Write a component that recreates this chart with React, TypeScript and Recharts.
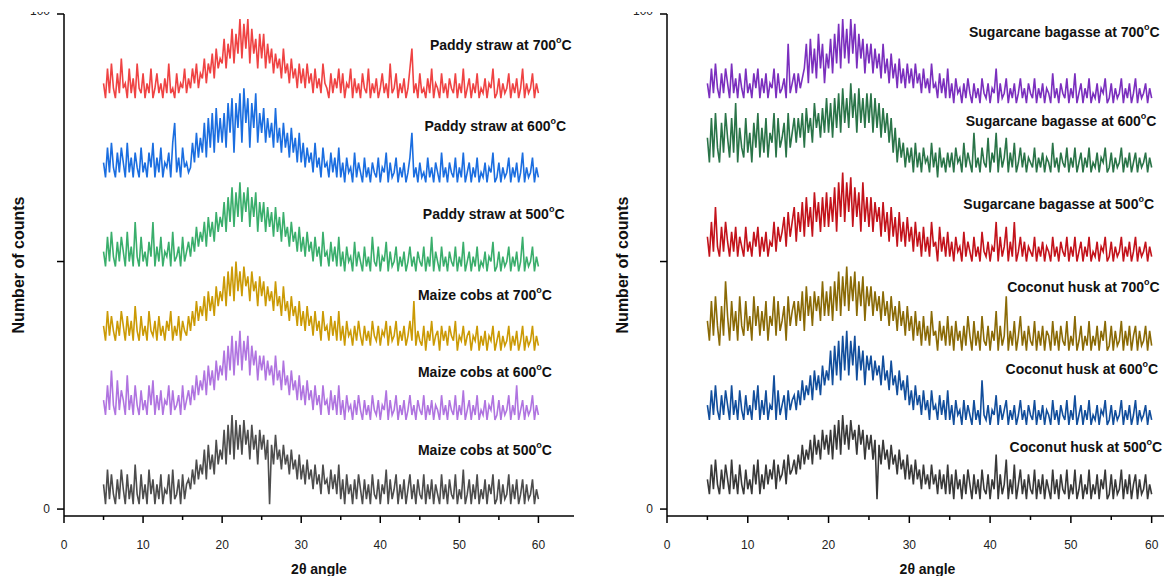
import { LineChart, Line, XAxis, YAxis, ReferenceDot } from "recharts";

const FONT = "'Liberation Sans', Arial, Helvetica, sans-serif";

// 2θ grid of the scans: 5° .. 60° every 0.25°
const X_START = 5;
const X_STEP = 0.25;
const N_POINTS = 221;
const twoTheta = Array.from({ length: N_POINTS }, (_, i) => X_START + i * X_STEP);

const X_TICKS = [0, 5, 10, 15, 20, 25, 30, 35, 40, 45, 50, 55, 60];
const Y_TICKS = [0, 50, 100];

// ---- left panel: paddy straw / maize cobs (offset intensities)
const paddy700 = [
  86,83,89,84,90,85,83,88,84,91,85,86,83,89,84,87,83,90,85,84,88,83,86,84,89,83,85,88,84,86,83,87,84,90,84,85,83,88,84,86,85,89,84,87,
  85,89,86,90,85,88,87,91,86,90,88,92,87,93,89,91,
  90,95,89,94,91,97,90,96,92,99,91,98,93,99,90,97,92,95,89,96,
  91,96,89,94,90,93,88,92,89,91,87,93,88,90,86,91,87,89,85,90,
  86,89,85,90,86,88,84,89,85,87,84,90,86,85,83,88,84,87,85,89,
  84,88,83,86,85,89,83,87,84,86,83,88,85,84,89,83,86,84,87,83,
  85,88,84,86,83,90,84,85,88,83,86,84,87,83,85,89,93,84,86,83,
  88,84,85,83,87,84,89,83,86,85,83,88,84,86,83,87,85,84,88,83,
  86,84,89,83,85,87,83,86,84,88,83,85,84,87,83,86,85,89,83,84,
  87,83,86,84,85,88,83,86,84,87,83,85,89,83,86,84,85,88,83,86,84,
];
const paddy600 = [
  70,67,73,68,74,69,67,72,68,73,70,67,74,68,71,67,72,69,67,73,68,70,67,72,69,74,67,71,68,73,67,70,69,72,67,74,78,68,71,67,73,69,70,68,
  69,74,70,76,71,75,72,78,71,79,73,80,72,81,74,79,
  74,80,73,82,76,83,72,82,77,84,74,85,78,83,73,82,77,84,74,80,
  76,81,74,79,75,78,73,81,74,77,72,78,73,76,71,77,72,75,70,76,
  70,74,69,73,70,72,68,74,69,71,67,73,69,70,67,72,68,71,67,73,
  67,70,66,71,68,69,66,72,67,70,68,66,71,67,69,66,70,68,67,71,
  66,69,68,72,66,70,67,68,71,66,69,67,70,66,68,71,76,67,69,66,
  70,67,68,66,71,67,69,66,70,68,66,72,67,69,66,70,68,67,71,66,
  69,67,72,66,68,70,66,69,67,71,66,68,67,70,66,69,68,72,66,67,
  70,66,69,67,68,71,66,69,67,70,66,68,72,66,69,67,68,71,66,69,67,
];
const paddy500 = [
  52,49,55,50,56,51,49,54,50,55,52,49,56,50,53,49,58,51,49,55,50,52,49,54,51,58,49,53,50,55,49,52,51,54,49,56,50,51,53,49,55,50,52,54,
  51,55,52,57,53,56,54,58,53,59,55,58,54,60,56,59,
  57,62,56,63,58,65,57,64,59,66,58,64,60,65,57,63,59,64,56,62,
  58,62,56,61,57,60,55,61,56,59,54,60,55,57,53,58,54,56,52,57,
  52,55,51,56,52,54,50,55,51,53,49,56,51,52,49,54,50,53,49,55,
  49,52,48,53,50,51,48,54,49,52,50,48,53,49,51,48,55,50,49,53,
  48,51,50,54,48,52,49,50,53,48,51,49,52,48,50,53,49,51,48,52,
  50,49,53,48,51,49,55,48,52,50,48,53,49,51,48,52,50,49,53,48,
  51,49,54,48,50,52,48,51,49,53,48,50,49,52,48,51,50,54,48,49,
  52,48,51,49,50,53,48,51,49,52,48,50,55,48,51,49,50,53,48,51,49,
];
const maize700 = [
  37,34,40,35,39,36,34,38,35,40,37,34,39,35,38,34,41,36,34,39,35,37,34,40,36,35,38,34,39,35,37,34,38,36,40,34,37,35,39,34,38,36,35,39,
  36,40,37,42,38,41,39,43,38,44,40,43,39,45,41,44,
  42,47,41,48,43,49,42,50,44,48,43,49,45,47,42,48,44,46,41,47,
  43,46,41,45,42,44,40,46,41,43,39,45,40,42,38,43,39,41,37,42,
  37,40,36,41,37,39,35,40,36,38,34,40,36,37,34,39,35,38,34,40,
  34,37,33,38,35,36,33,37,34,38,35,33,37,34,36,33,38,35,34,37,
  33,36,35,38,33,37,34,35,38,33,36,34,37,33,35,38,34,42,33,36,
  34,33,37,32,36,34,38,33,35,36,32,37,34,36,33,37,35,34,38,32,
  35,34,37,33,35,36,32,35,34,37,32,35,33,36,32,35,34,37,32,34,
  36,32,35,33,34,37,32,35,33,36,32,34,37,32,35,33,34,37,32,35,33,
];
const maize600 = [
  22,19,25,20,28,21,19,26,20,24,22,19,27,20,23,19,25,21,19,24,20,22,19,25,21,26,19,23,20,24,19,22,21,25,19,24,20,21,23,19,25,20,22,24,
  21,25,22,27,23,26,24,28,23,29,25,28,24,30,26,29,
  27,32,26,33,28,35,27,34,29,36,28,34,30,35,27,33,29,32,26,31,
  28,31,26,30,27,29,25,31,26,28,24,30,25,27,23,28,24,26,22,27,
  22,25,21,26,22,24,20,25,21,23,19,25,21,22,19,24,20,23,19,25,
  19,22,18,23,20,21,18,22,19,23,20,18,22,19,21,18,23,20,19,22,
  18,21,20,24,18,22,19,20,23,18,21,19,22,18,20,23,19,21,18,22,
  20,19,23,18,21,19,22,18,21,20,18,23,19,21,18,22,20,19,23,18,
  21,19,24,18,20,22,18,21,19,23,18,20,19,22,18,21,20,23,18,19,
  22,18,21,19,20,23,18,21,19,25,18,20,22,18,21,19,20,23,18,21,19,
];
const maize500 = [
  5,1,8,2,7,3,1,6,2,8,4,1,7,2,5,1,9,3,1,7,2,5,1,8,3,6,1,5,2,7,1,4,3,7,1,8,2,3,6,1,7,2,5,6,
  4,8,5,10,6,9,7,12,6,13,8,11,7,14,9,12,
  10,16,9,17,11,19,10,18,12,17,11,18,13,16,10,17,12,15,9,16,
  12,15,10,14,1,13,9,15,10,12,8,13,9,11,7,12,8,10,6,11,
  6,9,5,10,6,8,4,9,5,7,3,9,5,6,3,8,4,7,3,9,
  2,6,1,7,3,5,1,6,2,7,4,1,6,2,5,1,7,3,2,6,
  1,5,3,8,1,6,2,4,7,1,5,2,6,1,4,7,2,5,1,6,
  3,2,7,1,5,2,6,1,5,3,1,7,2,5,1,6,3,2,7,1,
  4,2,8,1,3,6,1,5,2,7,1,4,2,6,1,5,3,7,1,2,
  6,1,5,2,3,7,1,5,2,6,1,3,6,1,5,2,3,6,1,4,2,
];

// ---- right panel: sugarcane bagasse / coconut husk
const sugar700 = [
  86,83,89,84,90,85,83,88,84,89,86,83,90,84,87,83,88,85,83,89,84,86,83,88,85,89,83,87,84,88,83,86,85,89,83,88,84,85,87,83,94,84,86,88,
  84,88,85,87,89,94,86,95,88,93,87,96,89,94,86,92,
  89,95,88,96,90,98,89,99,91,97,90,99,92,98,89,96,91,95,88,94,
  90,94,88,93,89,92,87,94,88,91,86,92,87,90,85,91,86,89,85,90,
  86,89,85,90,86,88,84,89,85,87,84,90,85,86,83,88,84,87,83,89,
  83,86,82,87,84,85,82,86,83,87,84,82,86,83,85,82,87,84,83,86,
  82,85,84,89,82,86,83,84,87,82,85,83,86,82,84,87,83,85,82,86,
  84,83,87,82,85,83,86,82,85,84,82,88,83,85,82,86,84,83,87,82,
  85,83,88,82,84,86,82,85,83,87,82,84,83,86,82,85,84,87,82,83,
  86,82,85,83,84,87,82,85,83,86,82,84,87,82,85,83,84,86,82,85,83,
];
const sugar600 = [
  75,70,79,71,80,73,70,78,72,80,75,71,79,72,82,70,77,73,71,79,72,76,70,78,73,80,71,77,72,79,71,76,74,80,71,79,73,75,78,71,80,73,76,79,
  74,79,75,80,73,81,76,79,74,82,77,80,75,81,76,83,
  76,82,75,83,77,84,76,85,78,83,77,86,79,84,76,85,78,83,77,84,
  78,84,76,83,77,82,75,81,76,80,74,79,72,77,70,75,71,74,69,73,
  70,73,68,74,69,72,68,73,70,71,68,74,69,72,67,73,69,71,68,72,
  69,72,68,73,70,71,68,74,69,72,70,68,76,69,71,68,73,70,69,75,
  68,72,70,76,68,73,69,71,75,68,72,69,74,68,70,73,69,72,68,71,
  70,69,73,68,71,69,72,68,71,70,68,74,69,71,68,72,70,69,73,68,
  71,69,73,68,70,72,68,71,69,73,68,70,69,72,68,71,70,73,68,69,
  72,68,71,69,70,73,68,71,69,72,68,70,72,68,71,69,70,72,68,71,69,
];
const sugar500 = [
  55,51,58,52,61,53,51,57,52,58,54,51,56,52,57,51,55,53,51,57,52,54,51,56,53,57,51,55,52,56,51,54,53,58,52,57,54,56,59,53,60,55,58,61,
  54,60,56,62,55,63,57,61,55,64,58,62,56,63,57,64,
  57,63,58,65,56,66,59,68,58,66,60,67,57,65,59,64,56,66,58,63,
  57,63,56,62,58,61,55,62,56,60,54,61,55,59,53,60,54,58,53,59,
  54,57,52,58,53,56,51,57,52,55,51,58,53,54,50,57,52,55,51,56,
  51,54,50,55,52,53,50,56,51,54,52,50,55,51,53,50,56,52,51,54,
  50,53,52,58,50,55,51,53,57,50,54,51,58,50,52,55,51,54,50,53,
  52,51,55,50,53,51,54,50,53,52,50,55,51,53,50,54,52,51,55,50,
  53,51,55,50,52,54,50,53,51,55,50,52,51,54,50,53,52,55,50,51,
  54,50,53,51,52,55,50,53,51,54,50,52,55,50,53,51,52,54,50,53,51,
];
const coconut700 = [
  38,34,42,35,43,37,33,41,35,46,39,34,42,36,40,34,43,37,35,42,36,39,34,43,37,41,35,40,36,42,34,39,37,43,35,42,36,38,41,34,43,37,40,42,
  37,42,38,44,36,45,39,43,37,44,40,43,38,46,39,44,
  39,45,38,46,40,48,39,47,41,49,40,47,42,48,39,46,41,47,38,45,
  41,45,39,44,40,43,38,44,39,42,37,43,38,41,36,42,37,40,35,41,
  36,39,34,40,35,38,33,39,34,37,33,40,35,36,32,38,34,37,33,39,
  33,37,32,38,34,36,32,37,33,39,35,32,38,33,36,32,39,34,33,37,
  32,36,34,40,32,37,33,35,43,32,36,33,38,32,35,39,33,36,32,37,
  34,33,38,32,36,33,37,32,36,35,32,38,33,36,32,37,34,33,38,32,
  35,33,39,32,34,37,32,35,33,38,32,35,33,37,32,36,34,38,32,33,
  37,32,36,33,34,38,32,36,33,37,32,35,37,32,36,33,34,37,32,36,33,
];
const coconut600 = [
  21,18,24,19,25,20,18,23,19,24,21,18,25,19,22,18,24,20,18,23,19,21,18,24,20,25,18,22,19,24,18,21,20,27,18,24,19,21,23,18,24,20,22,23,
  20,24,21,26,22,25,23,27,22,28,24,27,23,29,25,28,
  26,32,25,33,27,34,26,35,28,36,27,34,29,35,26,33,28,32,25,31,
  28,31,26,30,27,29,25,31,26,28,24,30,25,27,23,28,24,26,22,27,
  21,24,20,25,21,23,19,24,20,22,18,24,20,21,18,23,19,22,18,24,
  18,21,17,22,19,20,17,22,18,21,19,17,22,18,20,17,26,19,18,21,
  17,20,19,23,17,21,18,20,22,17,20,18,21,17,19,22,18,20,17,21,
  19,18,22,17,20,18,21,17,20,19,17,22,18,20,17,21,19,18,22,17,
  20,18,23,17,19,21,17,20,18,22,17,19,18,21,17,20,19,22,17,18,
  21,17,20,18,19,22,17,20,18,21,17,19,22,17,20,18,19,21,17,20,18,
];
const coconut500 = [
  6,3,9,4,10,5,3,8,4,9,6,3,10,4,7,3,9,5,3,8,4,6,3,9,5,10,3,7,4,9,5,8,6,10,4,9,6,7,10,5,11,7,8,10,
  7,11,8,13,9,12,10,14,9,15,11,14,10,16,12,15,
  11,16,10,17,12,18,11,19,13,17,12,18,14,16,11,17,13,16,10,15,
  12,15,10,14,2,13,9,14,10,12,8,13,9,11,7,12,8,10,6,11,
  6,9,5,10,6,8,4,9,5,7,4,9,5,7,3,8,4,7,3,9,
  3,7,2,8,4,6,2,7,3,8,5,2,7,3,6,2,8,4,3,7,
  2,6,4,11,2,7,3,5,10,2,6,3,9,2,5,8,3,6,2,7,
  4,3,8,2,6,3,7,2,6,4,2,8,3,6,2,7,4,3,8,2,
  5,3,8,2,4,7,2,5,3,8,2,5,3,7,2,6,4,8,2,3,
  7,2,6,3,4,8,2,6,3,7,2,5,7,2,6,3,4,7,2,5,3,
];

const leftSeries = [
  { key: "paddy700", name: "Paddy straw at 700", color: "#ef4343", values: paddy700 },
  { key: "paddy600", name: "Paddy straw at 600", color: "#1b6ee0", values: paddy600 },
  { key: "paddy500", name: "Paddy straw at 500", color: "#3aae6c", values: paddy500 },
  { key: "maize700", name: "Maize cobs at 700", color: "#cb9a05", values: maize700 },
  { key: "maize600", name: "Maize cobs at 600", color: "#b074e0", values: maize600 },
  { key: "maize500", name: "Maize cobs at 500", color: "#4d4d4d", values: maize500 },
];
const rightSeries = [
  { key: "sugar700", name: "Sugarcane bagasse at 700", color: "#7b2fbe", values: sugar700 },
  { key: "sugar600", name: "Sugarcane bagasse at 600", color: "#2a7448", values: sugar600 },
  { key: "sugar500", name: "Sugarcane bagasse at 500", color: "#c3131b", values: sugar500 },
  { key: "coconut700", name: "Coconut husk at 700", color: "#8a6a06", values: coconut700 },
  { key: "coconut600", name: "Coconut husk at 600", color: "#124e9c", values: coconut600 },
  { key: "coconut500", name: "Coconut husk at 500", color: "#393939", values: coconut500 },
];

// where each curve's caption sits (right edge, in 2θ / counts units)
const leftCaptions = [
  { key: "paddy700", x: 64.2, y: 93.7 },
  { key: "paddy600", x: 63.5, y: 77.4 },
  { key: "paddy500", x: 63.3, y: 59.6 },
  { key: "maize700", x: 61.7, y: 43.2 },
  { key: "maize600", x: 61.7, y: 27.7 },
  { key: "maize500", x: 61.7, y: 11.9 },
];
const rightCaptions = [
  { key: "sugar700", x: 61.0, y: 96.4 },
  { key: "sugar600", x: 60.6, y: 78.4 },
  { key: "sugar500", x: 60.3, y: 61.6 },
  { key: "coconut700", x: 61.0, y: 44.8 },
  { key: "coconut600", x: 60.8, y: 28.3 },
  { key: "coconut500", x: 61.3, y: 12.5 },
];

function buildRows(series: typeof leftSeries) {
  return twoTheta.map((x, i) => {
    const row: any = { x };
    series.forEach((s) => (row[s.key] = s.values[i]));
    return row;
  });
}

function XTick({ x, y, payload }: any) {
  const major = payload.value % 10 === 0;
  return (
    <g>
      <line x1={x} y1={y} x2={x} y2={y + (major ? 7 : 4)} stroke="#000" strokeWidth={1.5} />
      {major && (
        <text x={x} y={y + 29} textAnchor="middle" dominantBaseline="central" fontSize={12} fill="#222" fontFamily={FONT}>
          {payload.value}
        </text>
      )}
    </g>
  );
}

function YTick({ x, y, payload }: any) {
  const v = payload.value;
  return (
    <g>
      <line x1={x - 7} y1={y} x2={x} y2={y} stroke="#000" strokeWidth={1.5} />
      {v !== 50 && (
        <text x={x - 14} y={v === 100 ? y - 3 : y} textAnchor="end" dominantBaseline="central" fontSize={12} fill="#222" fontFamily={FONT}>
          {v}
        </text>
      )}
    </g>
  );
}

function Caption({ viewBox, text }: any) {
  const vb = viewBox || { x: 0, y: 0, width: 0, height: 0 };
  const cx = vb.x + (vb.width || 0) / 2;
  const cy = vb.y + (vb.height || 0) / 2;
  return (
    <text x={cx} y={cy} textAnchor="end" dominantBaseline="central" fontSize={14} fontWeight="bold" fill="#111" fontFamily={FONT}>
      {text}
      <tspan dy={-5} fontSize={9}>o</tspan>
      <tspan dy={5}>C</tspan>
    </text>
  );
}

function Panel({ series, captions, width, axisWidth, titleOffset }: any) {
  const rows = buildRows(series);
  return (
    <LineChart width={width} height={564} data={rows} margin={{ top: 2, right: 6, left: 0, bottom: 0 }}>
      <XAxis
        type="number"
        dataKey="x"
        domain={[0, 64.5]}
        ticks={X_TICKS}
        interval={0}
        tickSize={0}
        tickMargin={0}
        tickLine={false}
        tick={<XTick />}
        axisLine={{ stroke: "#000", strokeWidth: 1.5 }}
        height={60}
        allowDataOverflow
        label={{ value: "2θ angle", position: "insideBottom", offset: 2, style: { fontWeight: "bold", fontSize: 14, fill: "#111", fontFamily: FONT } }}
      />
      <YAxis
        type="number"
        domain={[-1.4, 100]}
        ticks={Y_TICKS}
        interval={0}
        tickSize={0}
        tickMargin={0}
        tickLine={false}
        tick={<YTick />}
        axisLine={{ stroke: "#000", strokeWidth: 1.5 }}
        width={axisWidth}
        allowDataOverflow
        label={{
          value: "Number of counts",
          angle: -90,
          position: "insideLeft",
          offset: titleOffset,
          style: { textAnchor: "middle", fontWeight: "bold", fontSize: 16, fill: "#111", fontFamily: FONT },
        }}
      />
      {series.map((s: any) => (
        <Line
          key={s.key}
          type="linear"
          dataKey={s.key}
          stroke={s.color}
          strokeWidth={1.6}
          dot={false}
          activeDot={false}
          isAnimationActive={false}
        />
      ))}
      {captions.map((c: any) => {
        const s = series.find((q: any) => q.key === c.key);
        return (
          <ReferenceDot
            key={"cap-" + c.key}
            x={c.x}
            y={c.y}
            r={0}
            fill="none"
            stroke="none"
            label={{ content: (p: any) => <Caption viewBox={p.viewBox} text={s.name} /> }}
          />
        );
      })}
    </LineChart>
  );
}

export default function App() {
  return (
    <div style={{ position: "absolute", left: 0, top: 0, width: 1164, height: 576, overflow: "hidden", background: "#fff", fontFamily: FONT }}>
      <div style={{ position: "absolute", left: 0, top: 12 }}>
        <Panel series={leftSeries} captions={leftCaptions} width={580} axisWidth={64} titleOffset={18} />
      </div>
      <div style={{ position: "absolute", left: 600, top: 12 }}>
        <Panel series={rightSeries} captions={rightCaptions} width={594} axisWidth={67} titleOffset={22} />
      </div>
    </div>
  );
}
